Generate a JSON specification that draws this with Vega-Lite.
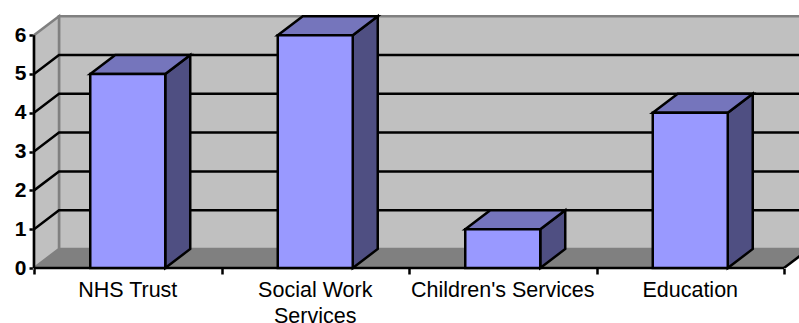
{
  "$schema": "https://vega.github.io/schema/vega-lite/v6.json",
  "width": 765,
  "height": 268,
  "autosize": "none",
  "padding": {"left": 34, "top": 0, "right": 0, "bottom": 55},
  "background": "white",
  "view": {"stroke": null},
  "params": [
    {"name": "depth", "value": 0.1333},
    {"name": "lift", "value": 0.49},
    {"name": "span", "value": 4}
  ],
  "layer": [
    {
      "description": "Back wall of the box",
      "data": {"values": [{"wall": "back"}]},
      "transform": [
        {"calculate": "depth", "as": "x0"},
        {"calculate": "span + depth", "as": "x1"},
        {"calculate": "lift", "as": "y0"},
        {"calculate": "6 + lift", "as": "y1"}
      ],
      "mark": {"type": "rect", "fill": "#C0C0C0", "stroke": "#808080", "strokeWidth": 2.5, "clip": true},
      "encoding": {
        "x": {
          "field": "x0",
          "type": "quantitative",
          "scale": {"domain": [0, 4.08], "nice": false, "zero": false},
          "axis": {
            "title": null,
            "values": [0, 1, 2, 3, 4],
            "labels": false,
            "domain": false,
            "grid": false,
            "ticks": true,
            "tickColor": "black",
            "tickWidth": 2.5,
            "tickSize": 6
          }
        },
        "x2": {"field": "x1"},
        "y": {
          "field": "y0",
          "type": "quantitative",
          "scale": {"domain": [0, 6.907], "nice": false, "zero": false},
          "axis": {
            "title": null,
            "values": [0, 1, 2, 3, 4, 5, 6],
            "format": "d",
            "domain": false,
            "grid": false,
            "tickColor": "black",
            "tickWidth": 2.5,
            "tickSize": 5,
            "labelFont": "Liberation Sans",
            "labelFontSize": 21,
            "labelFontWeight": "bold",
            "labelColor": "black",
            "labelPadding": 3
          }
        },
        "y2": {"field": "y1"}
      }
    },
    {
      "description": "Left wall and floor share the same two depth corners",
      "data": {"values": [{"corner": 0}, {"corner": 1}]},
      "transform": [
        {"calculate": "datum.corner * depth", "as": "xNear"},
        {"calculate": "span + datum.corner * depth", "as": "xFar"},
        {"calculate": "datum.corner * lift", "as": "yLow"},
        {"calculate": "6 + datum.corner * lift", "as": "yHigh"}
      ],
      "layer": [
        {
          "mark": {"type": "area", "orient": "vertical", "fill": "#C0C0C0", "stroke": "#808080", "strokeWidth": 2.5},
          "encoding": {
            "x": {"field": "xNear", "type": "quantitative"},
            "y": {"field": "yLow", "type": "quantitative"},
            "y2": {"field": "yHigh"}
          }
        },
        {
          "mark": {"type": "area", "orient": "horizontal", "fill": "#808080", "stroke": "#808080", "strokeWidth": 1, "clip": true},
          "encoding": {
            "y": {"field": "yLow", "type": "quantitative"},
            "x": {"field": "xNear", "type": "quantitative"},
            "x2": {"field": "xFar"}
          }
        }
      ]
    },
    {
      "description": "Gridlines wrap from the left wall across the back wall",
      "data": {
        "values": [
          {"level": 1, "corner": 0}, {"level": 1, "corner": 1}, {"level": 1, "corner": 2},
          {"level": 2, "corner": 0}, {"level": 2, "corner": 1}, {"level": 2, "corner": 2},
          {"level": 3, "corner": 0}, {"level": 3, "corner": 1}, {"level": 3, "corner": 2},
          {"level": 4, "corner": 0}, {"level": 4, "corner": 1}, {"level": 4, "corner": 2},
          {"level": 5, "corner": 0}, {"level": 5, "corner": 1}, {"level": 5, "corner": 2}
        ]
      },
      "transform": [
        {"calculate": "datum.corner === 0 ? 0 : datum.corner === 1 ? depth : span + depth", "as": "gx"},
        {"calculate": "datum.level + min(datum.corner, 1) * lift", "as": "gy"}
      ],
      "mark": {"type": "line", "color": "black", "strokeWidth": 2.5, "clip": true},
      "encoding": {
        "x": {"field": "gx", "type": "quantitative"},
        "y": {"field": "gy", "type": "quantitative"},
        "detail": {"field": "level"}
      }
    },
    {
      "description": "Value axis line, category axis line and the floor's right edge",
      "data": {"values": [{"corner": 0}, {"corner": 1}]},
      "transform": [
        {"calculate": "span + datum.corner * depth", "as": "ex"},
        {"calculate": "datum.corner * lift", "as": "ey"},
        {"calculate": "datum.corner * 6", "as": "vy"},
        {"calculate": "datum.corner * span", "as": "hx"},
        {"calculate": "0", "as": "origin"}
      ],
      "layer": [
        {
          "mark": {"type": "line", "color": "black", "strokeWidth": 2.5, "clip": true},
          "encoding": {
            "x": {"field": "ex", "type": "quantitative"},
            "y": {"field": "ey", "type": "quantitative"}
          }
        },
        {
          "mark": {"type": "line", "color": "black", "strokeWidth": 2.5},
          "encoding": {
            "x": {"field": "origin", "type": "quantitative"},
            "y": {"field": "vy", "type": "quantitative"}
          }
        },
        {
          "mark": {"type": "line", "color": "black", "strokeWidth": 2.5},
          "encoding": {
            "x": {"field": "hx", "type": "quantitative"},
            "y": {"field": "origin", "type": "quantitative"}
          }
        }
      ]
    },
    {
      "description": "Extruded columns: one category slot each, 0.4 wide and centred",
      "data": {
        "values": [
          {"category": "NHS Trust", "value": 5},
          {"category": "Social Work\nServices", "value": 6},
          {"category": "Children's Services", "value": 1},
          {"category": "Education", "value": 4}
        ]
      },
      "transform": [
        {"window": [{"op": "row_number", "as": "rank"}]},
        {"calculate": "datum.rank - 1 + 0.3", "as": "left"},
        {"calculate": "datum.rank - 1 + 0.7", "as": "right"},
        {"calculate": "datum.rank - 1 + 0.5", "as": "centre"},
        {"calculate": "[0, 1]", "as": "corner"},
        {"flatten": ["corner"]},
        {"calculate": "datum.left + datum.corner * depth", "as": "topLeft"},
        {"calculate": "datum.right + datum.corner * depth", "as": "topRight"},
        {"calculate": "datum.value + datum.corner * lift", "as": "topY"},
        {"calculate": "datum.corner * lift", "as": "baseY"},
        {"calculate": "0", "as": "zero"}
      ],
      "layer": [
        {
          "mark": {"type": "area", "orient": "vertical", "fill": "#4F4F82", "stroke": "black", "strokeWidth": 2.5},
          "encoding": {
            "x": {"field": "topRight", "type": "quantitative"},
            "y": {"field": "baseY", "type": "quantitative"},
            "y2": {"field": "topY"},
            "detail": {"field": "category"}
          }
        },
        {
          "mark": {"type": "area", "orient": "horizontal", "fill": "#7575BC", "stroke": "black", "strokeWidth": 2.5},
          "encoding": {
            "y": {"field": "topY", "type": "quantitative"},
            "x": {"field": "topLeft", "type": "quantitative"},
            "x2": {"field": "topRight"},
            "detail": {"field": "category"}
          }
        },
        {
          "transform": [{"filter": "datum.corner === 0"}],
          "mark": {"type": "rect", "fill": "#9999FF", "stroke": "black", "strokeWidth": 2.5},
          "encoding": {
            "x": {"field": "left", "type": "quantitative"},
            "x2": {"field": "right"},
            "y": {"field": "zero", "type": "quantitative"},
            "y2": {"field": "value"}
          }
        },
        {
          "transform": [{"filter": "datum.corner === 0"}],
          "mark": {
            "type": "text",
            "font": "Liberation Sans",
            "fontSize": 21.5,
            "color": "black",
            "align": "center",
            "baseline": "alphabetic",
            "dy": 29,
            "lineBreak": "\n",
            "lineHeight": 26
          },
          "encoding": {
            "x": {"field": "centre", "type": "quantitative"},
            "y": {"field": "zero", "type": "quantitative"},
            "text": {"field": "category"}
          }
        }
      ]
    }
  ]
}
